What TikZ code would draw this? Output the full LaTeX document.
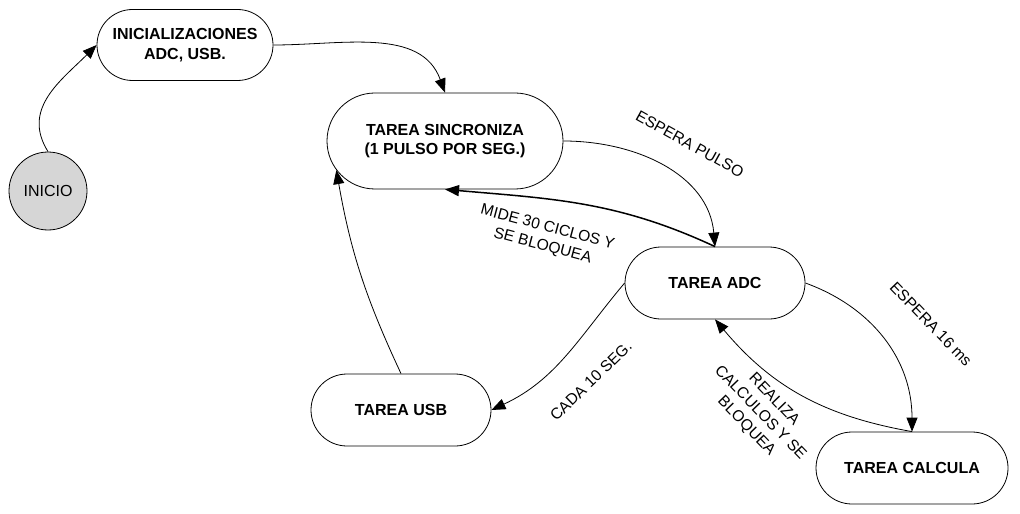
\documentclass[tikz,border=0pt]{standalone}
\usepackage{fontspec}
\setmainfont{Liberation Sans}
\usetikzlibrary{shapes.misc,arrows.meta}
\begin{document}
\begin{tikzpicture}[x=0.5pt,y=0.5pt,
  tarea/.style={draw,rounded rectangle,minimum width=90pt,minimum height=36pt,inner sep=0pt,align=center,font=\fontsize{8}{9.7}\selectfont\bfseries},
  etiqueta/.style={align=center,inner sep=0pt,font=\fontsize{7.8}{9.6}\selectfont},
  flecha/.style={-{Triangle[length=7pt,width=5.5pt]},line width=0.4pt}]
\useasboundingbox (0,0) rectangle (1020,-513);
\node[draw,circle,fill=black!16,minimum size=39pt,inner sep=0pt,font=\fontsize{8}{9.7}\selectfont] (inicio) at (48,-191) {INICIO};
\node[tarea,minimum width=88pt,minimum height=35.5pt] (inicial) at (185,-45) {INICIALIZACIONES\\ADC, USB.};
\node[tarea,minimum width=118pt,minimum height=48pt] (sinc) at (445,-141) {TAREA SINCRONIZA\\(1 PULSO POR SEG.)};
\node[tarea] (adc) at (715,-283) {TAREA ADC};
\node[tarea] (usb) at (401,-410) {TAREA USB};
\node[tarea,minimum width=96pt] (calc) at (912,-468) {TAREA CALCULA};
\draw[flecha] (inicio.north) to[out=122,in=225,looseness=1.1] (inicial.west);
\draw[flecha] (inicial.east) to[out=0,in=110] (sinc.north);
\draw[flecha] (sinc.east) to[out=0,in=95] (adc.north);
\draw[flecha,line width=0.75pt] (adc.north) to[out=155,in=-5] (sinc.south);
\draw[flecha] (adc.west) to[out=230,in=25] (usb.east);
\draw[flecha] (usb.north) to[out=115,in=-80] (sinc.195);
\draw[flecha] (adc.east) to[out=-20,in=90] (calc.north);
\draw[flecha] (calc.north) to[out=170,in=-50] (adc.south);
\node[etiqueta,rotate=-29] (pulso) at (690,-144) {ESPERA PULSO};
\node[etiqueta,rotate=-15] (mide) at (545,-237) {MIDE 30 CICLOS Y\\SE BLOQUEA};
\node[etiqueta,rotate=44] (cada) at (591,-381) {CADA 10 SEG.};
\node[etiqueta,rotate=-46] (espera) at (931,-324) {ESPERA 16 ms};
\node[etiqueta,rotate=-46] (realiza) at (760,-413) {REALIZA\\CALCULOS Y SE\\BLOQUEA};
\end{tikzpicture}
\end{document}
